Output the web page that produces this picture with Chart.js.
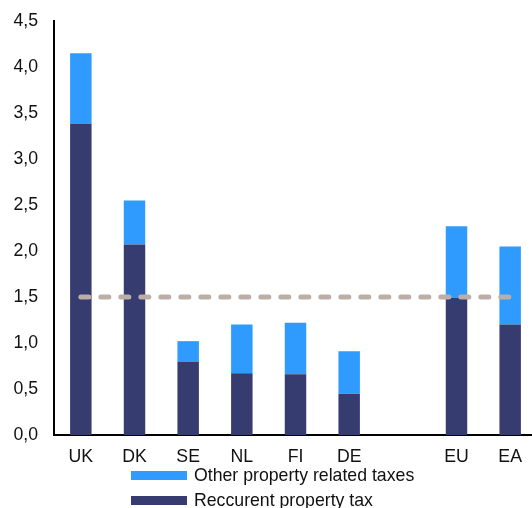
<!DOCTYPE html>
<html>
<head>
<meta charset="utf-8">
<script src="https://cdn.jsdelivr.net/npm/chart.js@4.4.1/dist/chart.umd.min.js"></script>
<style>
  html, body { margin: 0; padding: 0; background: #fff; overflow: hidden; }
  #wrap { position: absolute; left: 0; top: 0; width: 537px; height: 508px; }
  .leg { position: absolute; left: 131px; font: 17.7px "Liberation Sans", Arial, sans-serif; color: #111; white-space: nowrap; }
  .leg span.box { position: absolute; left: 0; width: 56px; height: 9px; }
  .leg span.txt { position: absolute; left: 63px; top: -6px; line-height: 20px; }
</style>
</head>
<body>
<div id="wrap"><canvas id="c" width="537" height="508"></canvas></div>
<div class="leg" style="top:471px"><span class="box" style="background:#2f9bff"></span><span class="txt" id="l1"></span></div>
<div class="leg" style="top:496px"><span class="box" style="background:#363b70"></span><span class="txt" id="l2"></span></div>
<script>
const categories = ['UK', 'DK', 'SE', 'NL', 'FI', 'DE', '', 'EU', 'EA'];
const recurrentTax = [3.38, 2.07, 0.80, 0.67, 0.66, 0.45, null, 1.49, 1.20];
const totalTax = [4.15, 2.55, 1.02, 1.20, 1.22, 0.91, null, 2.27, 2.05];
const otherTax = totalTax.map((t, i) => t === null ? null : +(t - recurrentTax[i]).toFixed(2));
const referenceLine = [1.5, 1.5, 1.5, 1.5, 1.5, 1.5, 1.5, 1.5, 1.5];
const seriesNames = ['Reccurent property tax', 'Other property related taxes'];
const yTicks = [0, 0.5, 1, 1.5, 2, 2.5, 3, 3.5, 4, 4.5];

document.getElementById('l1').textContent = seriesNames[1];
document.getElementById('l2').textContent = seriesNames[0];

const font = { family: '"Liberation Sans", Arial, sans-serif', size: 17.7 };

new Chart(document.getElementById('c'), {
  data: {
    labels: categories,
    datasets: [
      { type: 'bar', label: seriesNames[0], data: recurrentTax, backgroundColor: '#363b70', stack: 's', order: 2,
        barPercentage: 0.4, categoryPercentage: 1 },
      { type: 'bar', label: seriesNames[1], data: otherTax, backgroundColor: '#2f9bff', stack: 's', order: 2,
        barPercentage: 0.4, categoryPercentage: 1 },
      { type: 'line', label: 'ref', data: referenceLine, borderColor: '#bbaea6', borderWidth: 5,
        borderDash: [8, 12], borderCapStyle: 'round', pointRadius: 0, fill: false, stack: 'ref', order: 0 }
    ]
  },
  options: {
    responsive: false,
    animation: false,
    layout: { padding: { top: 21, left: 0, right: 0, bottom: 0 } },
    plugins: { legend: { display: false }, tooltip: { enabled: false } },
    scales: {
      x: {
        stacked: true,
        grid: { display: false, drawTicks: false },
        border: { display: true, color: '#000', width: 2 },
        ticks: { color: '#111', font: font, padding: 11, autoSkip: false, maxRotation: 0 },
        afterFit: s => { s.height = 73; s.paddingLeft = 0; s.paddingRight = 0; }
      },
      y: {
        stacked: true,
        min: 0, max: 4.5,
        afterBuildTicks: s => { s.ticks = yTicks.map(v => ({ value: v })); },
        grid: { display: false, drawTicks: false },
        border: { display: true, color: '#000', width: 2 },
        ticks: { color: '#111', font: font, padding: 16,
          callback: v => v.toFixed(1).replace('.', ',') },
        afterFit: s => { s.width = 54; s.paddingTop = 0; s.paddingBottom = 0; }
      }
    }
  }
});
</script>
</body>
</html>
